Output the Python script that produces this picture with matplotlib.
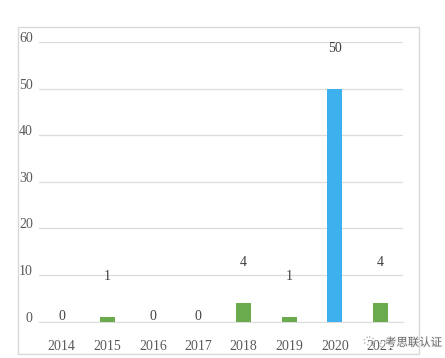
import matplotlib.pyplot as plt
import matplotlib.patheffects as pe
from matplotlib.patches import Ellipse, Rectangle
from matplotlib.transforms import ScaledTranslation

years = ['2014', '2015', '2016', '2017', '2018', '2019', '2020', '2021']
counts = [0, 1, 0, 0, 4, 1, 50, 4]
bar_colors = ['#6aab4e', '#6aab4e', '#6aab4e', '#6aab4e', '#6aab4e', '#6aab4e', '#3db1ee', '#6aab4e']
y_ticks = [0, 10, 20, 30, 40, 50, 60]

W, H = 445, 358
plt.rcParams['font.family'] = ['Liberation Serif', 'DejaVu Serif']

fig = plt.figure(figsize=(W / 100, H / 100), dpi=100)
ax = fig.add_axes([39 / W, 1 - 321.5 / H, 364 / W, 279.5 / H])

# outer frame of the pasted chart
fig.patches.append(Rectangle((18 / W, 1 - 354 / H), 401 / W, 327 / H, transform=fig.transFigure,
                             fill=False, edgecolor='#d9d9d9', linewidth=1))

ax.bar(range(len(years)), counts, width=0.32, color=bar_colors, zorder=3)
ax.set_xlim(-0.5, len(years) - 0.5)
ax.set_ylim(0, 60)
ax.set_yticks(y_ticks)
ax.set_xticks(range(len(years)))
ax.set_xticklabels(years)
ax.grid(axis='y', color='#dcdcdc', linewidth=0.9)
ax.set_axisbelow(True)
for s in ['top', 'right', 'left']:
    ax.spines[s].set_visible(False)
ax.spines['bottom'].set_color('#dcdcdc')
ax.tick_params(axis='both', length=0, labelsize=10, labelcolor='#595959')
ax.tick_params(axis='x', pad=13)
ax.tick_params(axis='y', pad=4.5)

# y labels sit a little above their gridline
up = ScaledTranslation(0, 5 / 100, fig.dpi_scale_trans)
for lab in ax.get_yticklabels():
    lab.set_transform(lab.get_transform() + up)

# value labels float well above the bars, zeros just above the axis
for i, v in enumerate(counts):
    off = 5 if v == 0 else 40
    ax.annotate(str(v), (i, v), xytext=(0, off * 72 / 100), textcoords='offset points',
                ha='center', va='center', fontsize=10, color='#404040', zorder=4,
                annotation_clip=False)

# watermark
ax2 = fig.add_axes([0, 0, 1, 1])
ax2.set_xlim(0, W)
ax2.set_ylim(H, 0)
ax2.axis('off')
ax2.patch.set_alpha(0)
ax2.add_patch(Ellipse((369, 341), 10, 8, fill=False, edgecolor='#b0b0b0', linewidth=1, linestyle=':'))
ax2.add_patch(Ellipse((377, 345), 9, 7, fill=False, edgecolor='#b0b0b0', linewidth=1, linestyle=':'))
ax2.text(413.5, 342.5, '考思联认证', family=['Noto Sans CJK SC', 'DejaVu Sans'], fontsize=8.2,
         color='#6a6a6a', ha='center', va='center',
         path_effects=[pe.withStroke(linewidth=1.5, foreground='#f4f4f4')])

fig.savefig('out.png', dpi=100)
